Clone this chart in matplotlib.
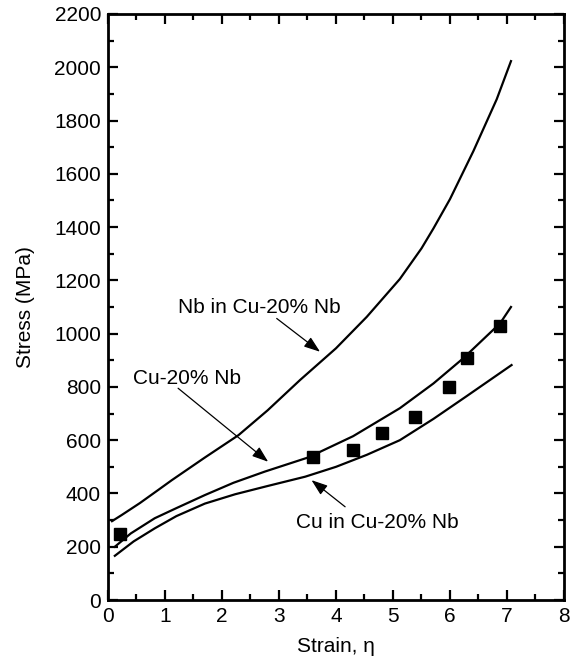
import numpy as np
import matplotlib.pyplot as plt
from matplotlib.ticker import MultipleLocator

plt.rcParams.update({'font.family': ['Liberation Sans', 'DejaVu Sans'], 'font.size': 14})

# Nb in Cu-20% Nb (upper curve)
nb_x = [0.07, 0.24, 0.56, 0.88, 1.12, 1.7, 2.29, 2.8, 3.37, 4.0, 4.54, 5.12, 5.5, 5.71, 6.0, 6.41, 6.82, 7.07]
nb_y = [296, 319, 364, 413, 450, 535, 619, 712, 826, 945, 1063, 1205, 1320, 1395, 1505, 1685, 1880, 2023]

# Cu-20% Nb composite (middle curve)
comp_x = [0.12, 0.4, 0.82, 1.2, 1.7, 2.2, 2.75, 3.51, 4.3, 5.12, 5.71, 6.23, 6.88, 7.07]
comp_y = [200, 250, 307, 345, 394, 440, 482, 535, 615, 720, 813, 907, 1039, 1100]

# Cu in Cu-20% Nb (lower curve)
cu_x = [0.12, 0.45, 0.82, 1.2, 1.7, 2.23, 2.8, 3.46, 4.0, 4.54, 5.12, 5.71, 6.29, 7.08]
cu_y = [166, 220, 269, 315, 362, 397, 428, 463, 500, 545, 600, 680, 765, 882]

# measured composite strengths
meas_x = [0.21, 3.59, 4.29, 4.80, 5.39, 5.99, 6.29, 6.88]
meas_y = [248, 536, 562, 626, 688, 798, 907, 1028]

fig = plt.figure(figsize=(5.72, 6.59), dpi=100)
ax = fig.add_axes([0.1888, 0.0895, 0.7972, 0.8893])

ax.plot(nb_x, nb_y, c='black', lw=1.6)
ax.plot(comp_x, comp_y, c='black', lw=1.6)
ax.plot(cu_x, cu_y, c='black', lw=1.6)
ax.plot(meas_x, meas_y, ls='none', marker='s', ms=8, c='black')

arrow = dict(arrowstyle='-|>,head_length=0.7,head_width=0.25', color='black', lw=0.9, shrinkA=0, shrinkB=0)
ax.annotate('', xy=(3.72, 932), xytext=(2.96, 1057), arrowprops=arrow)
ax.annotate('', xy=(2.81, 519), xytext=(1.23, 795), arrowprops=arrow)
ax.annotate('', xy=(3.57, 450), xytext=(4.16, 350), arrowprops=arrow)
ax.text(2.65, 1098, 'Nb in Cu-20% Nb', ha='center', va='center', fontsize=15)
ax.text(1.39, 830, 'Cu-20% Nb', ha='center', va='center', fontsize=15)
ax.text(4.73, 291, 'Cu in Cu-20% Nb', ha='center', va='center', fontsize=15)

ax.set_xlim(0, 8)
ax.set_ylim(0, 2200)
ax.xaxis.set_major_locator(MultipleLocator(1))
ax.xaxis.set_minor_locator(MultipleLocator(0.5))
ax.yaxis.set_major_locator(MultipleLocator(200))
ax.yaxis.set_minor_locator(MultipleLocator(100))
ax.tick_params(which='both', direction='in', top=True, right=True, width=1.6)
ax.tick_params(which='major', length=7, labelsize=15)
ax.tick_params(which='minor', length=4)
ax.tick_params(axis='y', pad=5)
ax.tick_params(axis='x', pad=5)
for side in ['top', 'bottom', 'left', 'right']:
    ax.spines[side].set_linewidth(2)

ax.set_xlabel('Strain, η', fontsize=15, labelpad=8)
ax.set_ylabel('Stress (MPa)', fontsize=15, labelpad=14)

plt.savefig('out.png', dpi=100)
plt.close()
